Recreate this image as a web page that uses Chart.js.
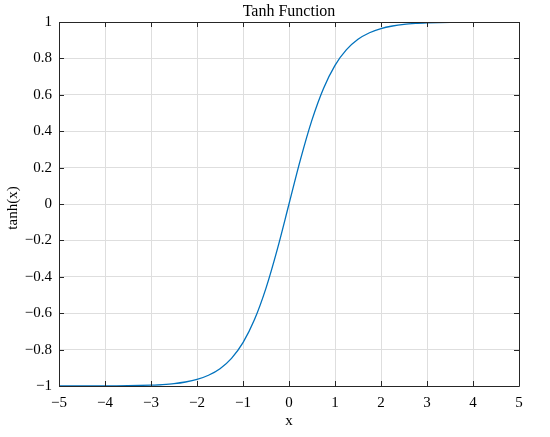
<!DOCTYPE html>
<html>
<head>
<meta charset="utf-8">
<script src="https://cdn.jsdelivr.net/npm/chart.js@4/dist/chart.umd.min.js"></script>
<style>
  html, body { margin: 0; padding: 0; background: #fff; }
  #wrap { width: 550px; height: 437px; }
</style>
</head>
<body>
<div id="wrap"><canvas id="tanhChart" width="550" height="437"></canvas></div>
<script>
// values
const xValues = [-5, -4.75, -4.5, -4.25, -4, -3.75, -3.5, -3.25, -3, -2.75, -2.5, -2.25, -2, -1.75, -1.5, -1.25, -1, -0.75, -0.5, -0.25,
  0, 0.25, 0.5, 0.75, 1, 1.25, 1.5, 1.75, 2, 2.25, 2.5, 2.75, 3, 3.25, 3.5, 3.75, 4, 4.25, 4.5, 4.75, 5];
const yValues = [-1.0, -0.9999, -0.9998, -0.9996, -0.9993, -0.9989, -0.9982, -0.997, -0.995, -0.992, -0.987, -0.978, -0.964, -0.941, -0.905, -0.848, -0.762, -0.635, -0.462, -0.245,
  0, 0.245, 0.462, 0.635, 0.762, 0.848, 0.905, 0.941, 0.964, 0.978, 0.987, 0.992, 0.995, 0.997, 0.9982, 0.9989, 0.9993, 0.9996, 0.9998, 0.9999, 1.0];
const xTicks = [-5, -4, -3, -2, -1, 0, 1, 2, 3, 4, 5];
const yTicks = [-1, -0.8, -0.6, -0.4, -0.2, 0, 0.2, 0.4, 0.6, 0.8, 1];

const FONT = "'Liberation Serif', 'DejaVu Serif', serif";
const fmt = v => String(v).replace('-', '\u2212');

// MATLAB-ish box, inward ticks, title and axis labels
const boxPlugin = {
  id: 'box',
  afterDraw(chart) {
    const { ctx, chartArea: a, scales } = chart;
    ctx.save();
    ctx.strokeStyle = '#262626';
    ctx.lineWidth = 1;
    ctx.beginPath();
    ctx.rect(Math.round(a.left) + 0.5, Math.round(a.top) + 0.5, Math.round(a.right - a.left), Math.round(a.bottom - a.top));
    ctx.stroke();
    const len = 5;
    ctx.beginPath();
    xTicks.forEach(v => {
      const px = Math.round(scales.x.getPixelForValue(v)) + 0.5;
      ctx.moveTo(px, a.bottom); ctx.lineTo(px, a.bottom - len);
      ctx.moveTo(px, a.top); ctx.lineTo(px, a.top + len);
    });
    yTicks.forEach(v => {
      const py = Math.round(scales.y.getPixelForValue(v)) + 0.5;
      ctx.moveTo(a.left, py); ctx.lineTo(a.left + len, py);
      ctx.moveTo(a.right, py); ctx.lineTo(a.right - len, py);
    });
    ctx.stroke();

    ctx.fillStyle = '#000';
    ctx.textAlign = 'center';
    ctx.textBaseline = 'middle';
    const cx = (a.left + a.right) / 2;
    ctx.font = '16px ' + FONT;
    ctx.fillText('Tanh Function', cx, 12);
    ctx.font = '15px ' + FONT;
    ctx.fillText('x', cx, 421);
    ctx.translate(13, (a.top + a.bottom) / 2 + 4);
    ctx.rotate(-Math.PI / 2);
    ctx.fillText('tanh(x)', 0, 0);
    ctx.restore();
  }
};

new Chart(document.getElementById('tanhChart'), {
  type: 'line',
  data: {
    datasets: [{
      data: xValues.map((x, i) => ({ x: x, y: yValues[i] })),
      borderColor: '#0072BD',
      borderWidth: 1.3,
      pointRadius: 0,
      fill: false,
      cubicInterpolationMode: 'monotone'
    }]
  },
  options: {
    responsive: false,
    animation: false,
    layout: { padding: { top: 22, right: 31, left: 0, bottom: 0 } },
    plugins: { legend: { display: false }, tooltip: { enabled: false } },
    scales: {
      x: {
        type: 'linear', min: -5, max: 5,
        afterFit(s) { s.height = 51; },
        afterBuildTicks(s) { s.ticks = xTicks.map(v => ({ value: v })); },
        grid: { color: '#dedede', drawTicks: false },
        border: { display: false },
        ticks: { color: '#000', padding: 8, font: { family: FONT, size: 15 }, callback: v => fmt(v) }
      },
      y: {
        type: 'linear', min: -1, max: 1,
        afterFit(s) { s.width = 59; },
        afterBuildTicks(s) { s.ticks = yTicks.map(v => ({ value: v })); },
        grid: { color: '#dedede', drawTicks: false },
        border: { display: false },
        ticks: { color: '#000', padding: 7, font: { family: FONT, size: 15 }, callback: v => fmt(Math.round(v * 10) / 10) }
      }
    }
  },
  plugins: [boxPlugin]
});
</script>
</body>
</html>
